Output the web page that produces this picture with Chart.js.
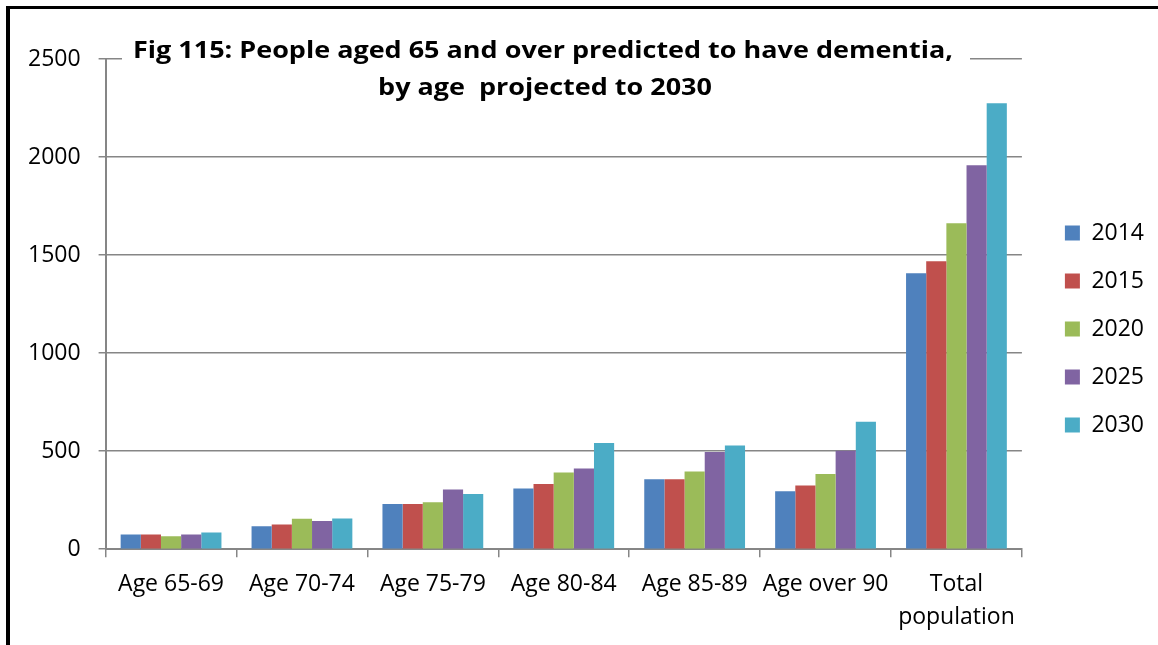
<!DOCTYPE html>
<html>
<head>
<meta charset="utf-8">
<script src="https://cdn.jsdelivr.net/npm/chart.js@4"></script>
<style>
  body { margin:0; background:#fff; }
  #wrap { position:relative; width:1158px; height:645px; }
  #frame { position:absolute; left:6px; top:6px; width:1152px; height:639px; border-top:3px solid #000; border-left:4px solid #000; box-sizing:border-box; pointer-events:none; }
</style>
</head>
<body>
<div id="wrap">
  <canvas id="grafic" width="1158" height="645"></canvas>
  <div id="frame"></div>
</div>
<script>
var categorii = ['Age 65-69', 'Age 70-74', 'Age 75-79', 'Age 80-84', 'Age 85-89', 'Age over 90', ['Total', 'population']];
var ani = ['2014', '2015', '2020', '2025', '2030'];
var v2014 = [75, 117, 230, 310, 357, 296, 1407];
var v2015 = [75, 126, 230, 332, 357, 325, 1468];
var v2020 = [66, 155, 240, 391, 396, 383, 1662];
var v2025 = [75, 144, 305, 412, 496, 502, 1958];
var v2030 = [85, 157, 282, 542, 529, 650, 2274];
var yTicks = [0, 500, 1000, 1500, 2000, 2500];
var titlu = ['Fig 115: People aged 65 and over predicted to have dementia,', 'by age  projected to 2030'];

var colors = ['#4F81BD', '#C0504D', '#9BBB59', '#8064A2', '#4BACC6'];
var serii = [v2014, v2015, v2020, v2025, v2030];
var gri = '#868686';
var font = '"Open Sans", Lato, sans-serif';

// titlul e desenat peste zona graficului, cu fundal alb
var titluPlugin = {
    id: 'titluPeste',
    afterLayout: function(chart) {
        // legenda mutata putin (dreapta / sus) ca in original
        var lg = chart.legend;
        lg.left += 18; lg.right += 18;
        lg.top -= 23; lg.bottom -= 23;
    },
    afterDraw: function(chart) {
        var ctx = chart.ctx;
        ctx.save();
        ctx.fillStyle = '#fff';
        ctx.fillRect(122, 30, 848, 75);
        ctx.fillStyle = '#000';
        ctx.font = 'bold 24px ' + font;
        ctx.textAlign = 'center';
        ctx.textBaseline = 'middle';
        var w = ctx.measureText(titlu[0]).width;
        var sx = 820 / w;
        ctx.translate(543, 0);
        ctx.scale(sx, 1);
        ctx.fillText(titlu[0], 0, 51);
        ctx.fillText(titlu[1], 2 / sx, 88);
        ctx.restore();
    }
};

var dateChart = {
    labels: categorii,
    datasets: ani.map(function(an, i) {
        return {
            label: an,
            data: serii[i],
            backgroundColor: colors[i],
            borderWidth: 0,
            categoryPercentage: 0.77,
            barPercentage: 1.0
        };
    })
};

var setare = {
    responsive: false,
    animation: false,
    layout: { padding: { left: 10, right: 22, top: 59, bottom: 0 } },
    plugins: {
        title: { display: false },
        tooltip: { enabled: false },
        legend: {
            position: 'right',
            align: 'center',
            labels: {
                boxWidth: 15, boxHeight: 15, padding: 25,
                color: '#000',
                font: { family: font, size: 23 }
            }
        }
    },
    scales: {
        x: {
            grid: { drawOnChartArea: false, drawTicks: true, tickLength: 8, color: gri, lineWidth: 1.5 },
            border: { color: gri, width: 2 },
            ticks: { color: '#000', font: { family: font, size: 23, lineHeight: 1.43 }, padding: 11, maxRotation: 0, autoSkip: false }
        },
        y: {
            min: 0, max: 2500,
            afterBuildTicks: function(axis) { axis.ticks = yTicks.map(function(v) { return { value: v }; }); },
            grid: { color: gri, lineWidth: 1.5, tickLength: 7 },
            border: { color: gri, width: 2 },
            ticks: { color: '#000', font: { family: font, size: 23 }, padding: 18,
                callback: function(v) { return String(v); } }
        }
    }
};

var el = document.getElementById('grafic');
if (el) {
    new Chart(el, { type: 'bar', data: dateChart, options: setare, plugins: [titluPlugin] });
}
else console.log('Nu merge');
</script>
</body>
</html>
